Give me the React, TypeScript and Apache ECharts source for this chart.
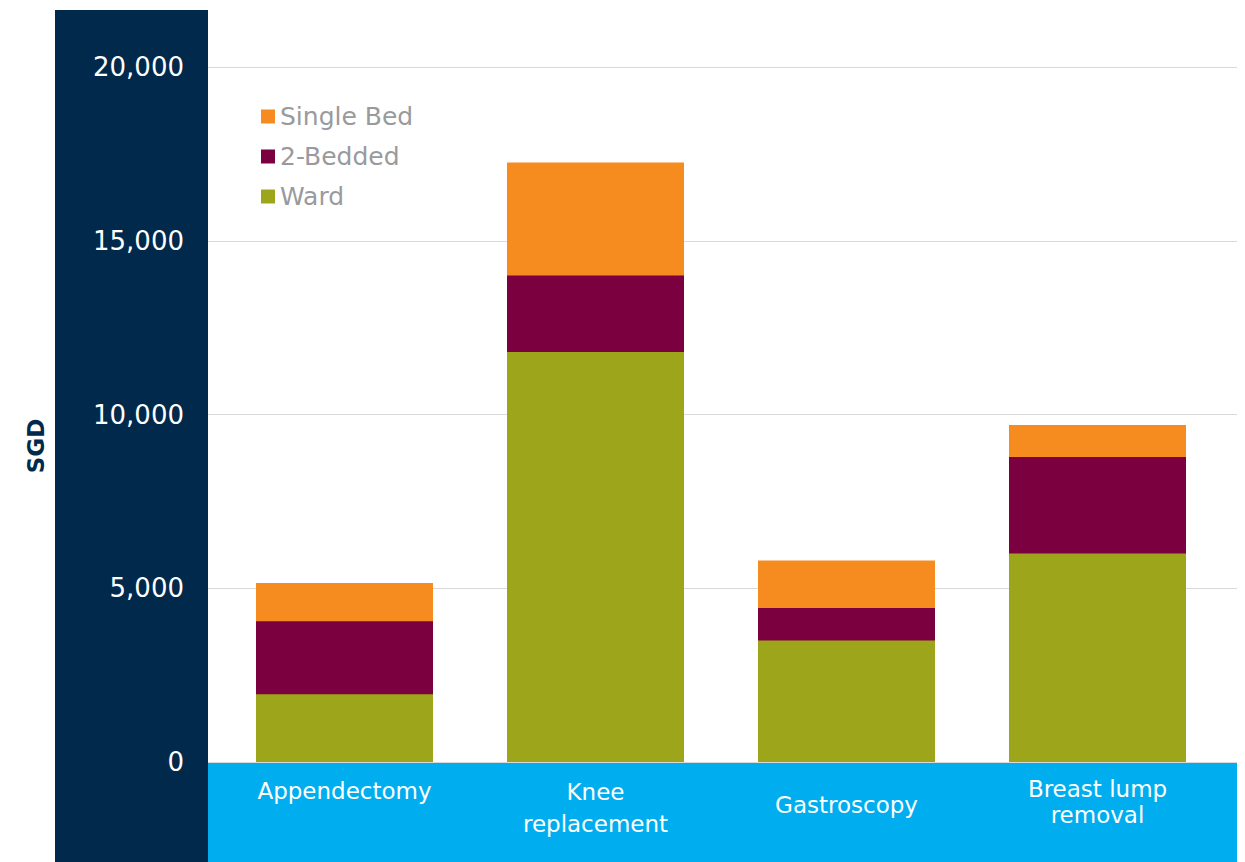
import React, { useEffect, useRef } from "react";
import * as echarts from "echarts";

const categories = ["Appendectomy", "Knee\nreplacement", "Gastroscopy", "Breast lump\nremoval"];
const singleBed = [5150, 17250, 5800, 9700];
const twoBedded = [4050, 14000, 4430, 8780];
const ward = [1950, 11800, 3500, 6000];
const yTicks = [0, 5000, 10000, 15000, 20000];

const NAVY = "#00294b";
const BLUE = "#00aeef";
const FONT = "DejaVu Sans";

export default function App() {
  const ref = useRef<HTMLDivElement>(null);
  useEffect(() => {
    if (!ref.current) return;
    const chart = echarts.init(ref.current, null, { renderer: "svg" });
    const labelPads = [2, 0, 16, 0];
    const lineHeights = [26, 32, 26, 26];
    chart.setOption({
      animation: false,
      backgroundColor: "#ffffff",
      graphic: [
        { type: "rect", z: -100, shape: { x: 55, y: 10, width: 153, height: 852 }, style: { fill: NAVY } },
        { type: "rect", z: -100, shape: { x: 208, y: 762, width: 1029, height: 100 }, style: { fill: BLUE } },
        {
          type: "text",
          x: 36,
          y: 446,
          rotation: Math.PI / 2,
          style: {
            text: "SGD",
            fill: NAVY,
            font: `bold 23px "${FONT}"`,
            align: "center",
            verticalAlign: "middle",
          },
        },
      ],
      legend: {
        left: 256,
        top: 99,
        orient: "vertical",
        icon: "rect",
        itemWidth: 14,
        itemHeight: 14,
        itemGap: 15,
        itemTextGap: 10,
        textStyle: { color: "#999a9c", fontSize: 25, fontFamily: FONT },
        data: ["Single Bed", "2-Bedded", "Ward"],
      },
      grid: [
        { left: 219, right: 22, top: 67, bottom: 100 },
        { left: 208, right: 8, top: 67, bottom: 100 },
      ],
      xAxis: [
        {
          type: "category",
          gridIndex: 0,
          data: categories.map((c, i) => ({
            value: c,
            textStyle: { padding: [labelPads[i], 0, 0, 0], lineHeight: lineHeights[i] },
          })),
          axisLine: { show: false },
          axisTick: { show: false },
          axisLabel: { color: "#ffffff", fontSize: 23, fontFamily: FONT, margin: 14, interval: 0 },
        },
        {
          type: "category",
          gridIndex: 1,
          data: categories,
          show: false,
        },
      ],
      yAxis: [
        {
          type: "value",
          gridIndex: 0,
          min: 0,
          max: 20000,
          interval: 5000,
          splitLine: { show: false },
          axisLine: { show: false },
          axisTick: { show: false },
          axisLabel: {
            color: "#ffffff",
            fontSize: 26,
            fontFamily: FONT,
            margin: 35,
            formatter: (v: number) => (yTicks.includes(v) ? v.toLocaleString("en-US") : ""),
          },
        },
        {
          type: "value",
          gridIndex: 1,
          min: 0,
          max: 20000,
          interval: 5000,
          axisLabel: { show: false },
          axisLine: { show: false },
          axisTick: { show: false },
          splitLine: { show: true, lineStyle: { color: "#d9d9d9", width: 1 } },
        },
      ],
      series: [
        {
          name: "Single Bed",
          type: "bar",
          data: singleBed,
          barWidth: 177,
          barGap: "-100%",
          itemStyle: { color: "#f68b1f" },
        },
        {
          name: "2-Bedded",
          type: "bar",
          data: twoBedded,
          barWidth: 177,
          barGap: "-100%",
          itemStyle: { color: "#7a0040" },
        },
        {
          name: "Ward",
          type: "bar",
          data: ward,
          barWidth: 177,
          barGap: "-100%",
          itemStyle: { color: "#9da61b" },
        },
      ],
    });
    return () => chart.dispose();
  }, []);
  return (
    <div
      ref={ref}
      style={{ position: "fixed", left: 0, top: 0, width: 1245, height: 862 }}
    />
  );
}
